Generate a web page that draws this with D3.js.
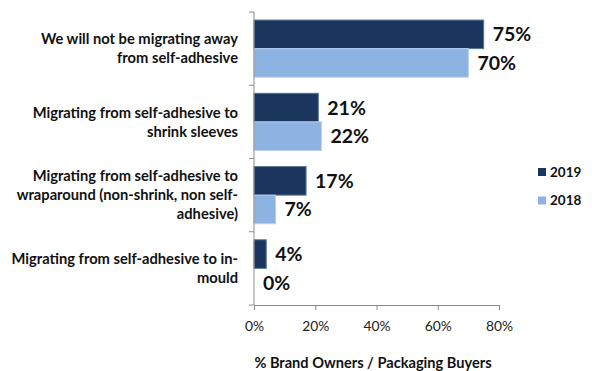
<!DOCTYPE html>
<html>
<head>
<meta charset="utf-8">
<script src="https://cdn.jsdelivr.net/npm/d3@7"></script>
<style>
  html, body { margin: 0; padding: 0; background: #fff; }
  svg { display: block; font-family: Lato, "Open Sans", sans-serif; }
</style>
</head>
<body>
<svg id="chart" width="592" height="371"></svg>
<script>
// Survey answers, values in percent
const categories = [
  ["We will not be migrating away", "from self-adhesive"],
  ["Migrating from self-adhesive to", "shrink sleeves"],
  ["Migrating from self-adhesive to", "wraparound (non-shrink, non self-", "adhesive)"],
  ["Migrating from self-adhesive to in-", "mould"]
];
const seriesNames = ["2019", "2018"];
const values2019 = [75, 21, 17, 4];
const values2018 = [70, 22, 7, 0];
const xTicks = [0, 20, 40, 60, 80];
const axisTitle = "% Brand Owners / Packaging Buyers";

const colors = { "2019": "#1b365e", "2018": "#8db3e2" };
const strokes = { "2019": "#5a7597", "2018": "#b8cfee" };

const svg = d3.select("#chart");
const plot = { left: 254, right: 499, top: 12, bottom: 305 };

const x = d3.scaleLinear().domain([0, 80]).range([plot.left, plot.right]);
const y = d3.scaleBand().domain(d3.range(categories.length))
  .range([plot.top, plot.bottom]).paddingInner(0.22).paddingOuter(0.11);
const ySub = d3.scaleBand().domain(seriesNames).range([0, y.bandwidth()]);

const series = [
  { name: "2019", values: values2019 },
  { name: "2018", values: values2018 }
];

// bars and their value labels
series.forEach(s => {
  svg.append("g").selectAll("rect").data(s.values).join("rect")
    .attr("x", x(0))
    .attr("y", (d, i) => y(i) + ySub(s.name))
    .attr("width", d => x(d) - x(0))
    .attr("height", ySub.bandwidth())
    .attr("fill", colors[s.name])
    .attr("stroke", d => d > 0 ? strokes[s.name] : "none")
    .attr("stroke-width", 1);

  svg.append("g").selectAll("text").data(s.values).join("text")
    .attr("x", d => x(d) + 9)
    .attr("y", (d, i) => y(i) + ySub(s.name) + ySub.bandwidth() / 2)
    .attr("dy", "0.36em")
    .attr("font-size", 19.5)
    .attr("font-weight", 700)
    .attr("fill", "#111")
    .text(d => d + "%");
});

// x axis
const xAxis = svg.append("g")
  .attr("transform", `translate(0,${plot.bottom})`)
  .call(d3.axisBottom(x).tickValues(xTicks).tickFormat(d => d + "%").tickSize(5).tickSizeOuter(0));
xAxis.select(".domain").attr("stroke", "#8c8c8c");
xAxis.selectAll(".tick line").attr("stroke", "#8c8c8c");
xAxis.selectAll(".tick text").attr("font-size", 13.8).attr("fill", "#222")
  .attr("font-family", "Lato, 'Open Sans', sans-serif").attr("dy", "1.3em");

// y axis with ticks on the category boundaries
const yAxisG = svg.append("g");
yAxisG.append("line")
  .attr("x1", plot.left).attr("x2", plot.left)
  .attr("y1", plot.top).attr("y2", plot.bottom)
  .attr("stroke", "#8c8c8c");
yAxisG.selectAll("line.tk").data(d3.range(categories.length + 1)).join("line")
  .attr("class", "tk")
  .attr("x1", plot.left - 5).attr("x2", plot.left)
  .attr("y1", i => plot.top + i * (plot.bottom - plot.top) / categories.length)
  .attr("y2", i => plot.top + i * (plot.bottom - plot.top) / categories.length)
  .attr("stroke", "#8c8c8c");

// category labels
const lineH = 19;
categories.forEach((lines, i) => {
  const cy = y(i) + y.bandwidth() / 2;
  const t = svg.append("text")
    .attr("text-anchor", "end")
    .attr("font-size", 14.7)
    .attr("font-weight", 700)
    .attr("fill", "#111");
  lines.forEach((ln, j) => {
    t.append("tspan")
      .attr("x", 238)
      .attr("y", cy + (j - (lines.length - 1) / 2) * lineH)
      .attr("dy", "0.35em")
      .text(ln);
  });
});

// legend
const legend = svg.append("g");
seriesNames.forEach((name, i) => {
  const ly = 172 + i * 28.5;
  legend.append("rect")
    .attr("x", 538).attr("y", ly - 4).attr("width", 8).attr("height", 8)
    .attr("fill", colors[name]);
  legend.append("text")
    .attr("x", 550).attr("y", ly).attr("dy", "0.36em")
    .attr("font-size", 13.5).attr("font-weight", 700).attr("fill", "#111")
    .text(name);
});

// axis title
svg.append("text")
  .attr("x", 373).attr("y", 363).attr("dy", "0.35em")
  .attr("text-anchor", "middle")
  .attr("font-size", 14.6).attr("font-weight", 700).attr("fill", "#111")
  .text(axisTitle);
</script>
</body>
</html>
